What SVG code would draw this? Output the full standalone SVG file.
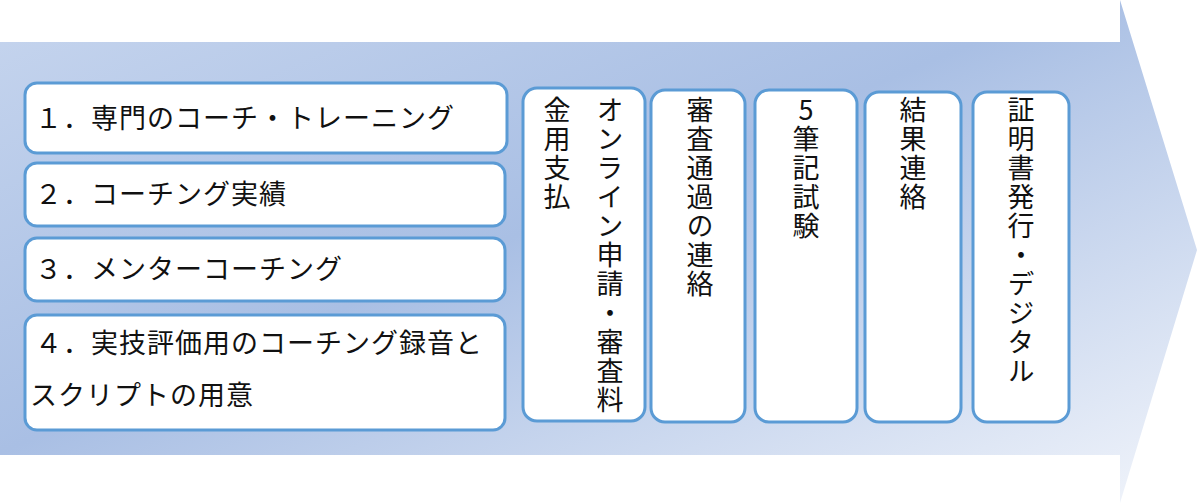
<svg xmlns="http://www.w3.org/2000/svg" width="1200" height="503" viewBox="0 0 1200 503">
<defs>
<linearGradient id="g" x1="0" y1="0" x2="1" y2="1">
<stop offset="0" stop-color="#c6d5ee"/><stop offset="0.45" stop-color="#a9bfe4"/><stop offset="1" stop-color="#f2f5fb"/>
</linearGradient>
<style>
.b{fill:#fff;stroke:#5b9bd5;stroke-width:3}
.t{font-family:"Noto Sans CJK JP","Noto Sans",sans-serif;font-size:27px;fill:#111}
.h{letter-spacing:1px}
.v{writing-mode:vertical-rl;text-orientation:upright;letter-spacing:2px}
</style>
</defs>
<path id="arrow" d="M0 42 H1120 V0 L1197 250 L1120 503 V455 H0 Z" fill="url(#g)"/>
<g id="n1"><rect class="b" x="25" y="83" width="482" height="70" rx="12"/><text class="t h" x="35" y="128">１．専門のコーチ・トレーニング</text></g>
<g id="n2"><rect class="b" x="25" y="163" width="480" height="63" rx="12"/><text class="t h" x="35" y="204">２．コーチング実績</text></g>
<g id="n3"><rect class="b" x="25" y="238" width="480" height="63" rx="12"/><text class="t h" x="35" y="279">３．メンターコーチング</text></g>
<g id="n4"><rect class="b" x="25" y="315" width="480" height="115" rx="12"/><text class="t h" x="35" y="353">４．実技評価用のコーチング録音と</text><text class="t h" x="30" y="405">スクリプトの用意</text></g>
<g id="n5"><rect class="b" x="523" y="88" width="122" height="333" rx="14"/><text class="t v" x="610" y="96">オンライン申請・審査料</text><text class="t v" x="557" y="96">金用支払</text></g>
<g id="n6"><rect class="b" x="651" y="90" width="94" height="332" rx="14"/><text class="t v" x="700" y="96">審査通過の連絡</text></g>
<g id="n7"><rect class="b" x="755" y="90" width="102" height="332" rx="14"/><text class="t v" x="806" y="96">5筆記試験</text></g>
<g id="n8"><rect class="b" x="865" y="92" width="96" height="330" rx="14"/><text class="t v" x="913" y="96">結果連絡</text></g>
<g id="n9"><rect class="b" x="973" y="92" width="96" height="330" rx="14"/><text class="t v" x="1021" y="96">証明書発行・デジタル</text></g>
<g id="connectors"/>
</svg>
